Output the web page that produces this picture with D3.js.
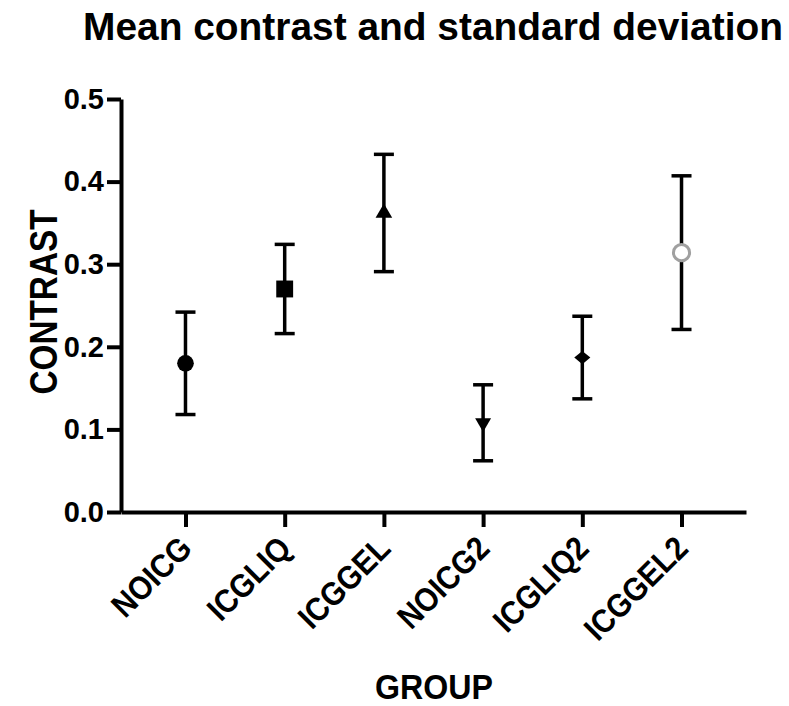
<!DOCTYPE html>
<html>
<head>
<meta charset="utf-8">
<script src="https://cdn.jsdelivr.net/npm/d3@7"></script>
<style>
  body { margin: 0; background: #fff; }
  text { font-family: "Liberation Sans", Arial, sans-serif; font-weight: bold; fill: #000; }
</style>
</head>
<body>
<div id="chart"></div>
<script>
// values
const groups = ["NOICG", "ICGLIQ", "ICGGEL", "NOICG2", "ICGLIQ2", "ICGGEL2"];
const means = [0.180, 0.270, 0.362, 0.108, 0.187, 0.314];
const sds = [0.062, 0.054, 0.071, 0.046, 0.050, 0.093];
const yTicks = [0.0, 0.1, 0.2, 0.3, 0.4, 0.5];

const width = 789, height = 706;
const margin = {top: 99, right: 43, bottom: 194, left: 121};

const svg = d3.select("#chart").append("svg")
    .attr("width", width)
    .attr("height", height);

const x = d3.scalePoint()
    .domain(groups)
    .range([margin.left, width - margin.right])
    .padding(0.65);

const y = d3.scaleLinear()
    .domain([0, 0.5])
    .range([height - margin.bottom, margin.top]);

// title
svg.append("text")
    .attr("x", 433)
    .attr("y", 40)
    .attr("text-anchor", "middle")
    .attr("textLength", 700)
    .attr("lengthAdjust", "spacingAndGlyphs")
    .style("font-size", "39px")
    .text("Mean contrast and standard deviation");

// y axis
const yAxis = svg.append("g")
    .attr("transform", `translate(${margin.left},0)`)
    .call(d3.axisLeft(y).tickValues(yTicks).tickFormat(d3.format(".1f")).tickSize(14).tickSizeOuter(0).tickPadding(3));
yAxis.select(".domain").attr("stroke-width", 4).attr("stroke", "#000");
yAxis.selectAll(".tick line").attr("stroke-width", 4).attr("stroke", "#000");
yAxis.selectAll(".tick text")
    .style("font-size", "29px")
    .style("font-family", "'Liberation Sans', Arial, sans-serif")
    .style("font-weight", "bold")
    .attr("fill", "#000");

// x axis
const xAxis = svg.append("g")
    .attr("transform", `translate(0,${y(0)})`)
    .call(d3.axisBottom(x).tickSize(15).tickSizeOuter(0).tickFormat(""));
xAxis.select(".domain").attr("stroke-width", 4).attr("stroke", "#000");
xAxis.selectAll(".tick line").attr("stroke-width", 4).attr("stroke", "#000");

// rotated group labels (slightly condensed like the original face)
svg.append("g").selectAll("text")
    .data(groups)
    .join("text")
    .attr("transform", d => `translate(${x(d) - 8},${y(0) + 22}) rotate(-45) scale(0.9,1)`)
    .attr("text-anchor", "end")
    .attr("dy", "0.7em")
    .style("font-size", "33px")
    .text(d => d);

// axis titles
svg.append("text")
    .attr("transform", `translate(57,302) rotate(-90)`)
    .attr("text-anchor", "middle")
    .attr("textLength", 185)
    .attr("lengthAdjust", "spacingAndGlyphs")
    .style("font-size", "38px")
    .text("CONTRAST");

svg.append("text")
    .attr("x", 434)
    .attr("y", 699)
    .attr("text-anchor", "middle")
    .attr("textLength", 118)
    .attr("lengthAdjust", "spacingAndGlyphs")
    .style("font-size", "35px")
    .text("GROUP");

// error bars
const bars = svg.append("g").selectAll("g")
    .data(groups)
    .join("g")
    .attr("stroke", "#000")
    .attr("stroke-width", 3.5);

bars.append("line")
    .attr("x1", d => x(d)).attr("x2", d => x(d))
    .attr("y1", (d, i) => y(means[i] + sds[i]))
    .attr("y2", (d, i) => y(means[i] - sds[i]));
bars.append("line")
    .attr("x1", d => x(d) - 10).attr("x2", d => x(d) + 10)
    .attr("y1", (d, i) => y(means[i] + sds[i]))
    .attr("y2", (d, i) => y(means[i] + sds[i]));
bars.append("line")
    .attr("x1", d => x(d) - 10).attr("x2", d => x(d) + 10)
    .attr("y1", (d, i) => y(means[i] - sds[i]))
    .attr("y2", (d, i) => y(means[i] - sds[i]));

// markers
const shapes = [d3.symbolCircle, d3.symbolSquare, d3.symbolTriangle, d3.symbolTriangle, d3.symbolDiamond2, d3.symbolCircle];
const sizes = [218, 285, 120, 110, 165, 205];
const extra = ["", "", "", " rotate(180)", " scale(1,0.82)", ""];

svg.append("g").selectAll("path")
    .data(groups)
    .join("path")
    .attr("transform", (d, i) => `translate(${x(d)},${y(means[i])})` + extra[i])
    .attr("d", (d, i) => d3.symbol(shapes[i], sizes[i])())
    .attr("fill", (d, i) => i === 5 ? "#fff" : "#000")
    .attr("stroke", (d, i) => i === 5 ? "#a0a0a0" : "none")
    .attr("stroke-width", 3);
</script>
</body>
</html>
